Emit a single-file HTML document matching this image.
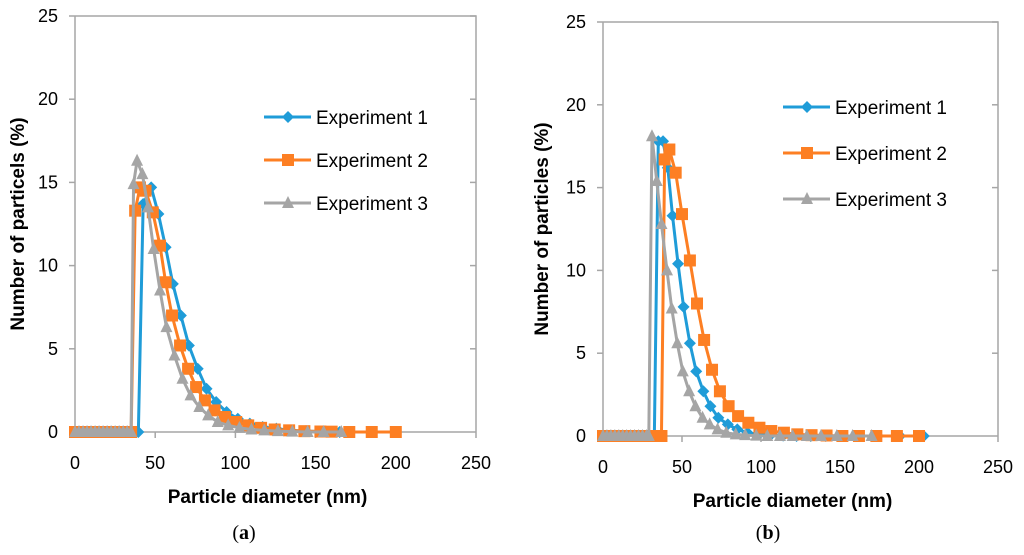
<!DOCTYPE html>
<html><head><meta charset="utf-8"><style>
html,body{margin:0;padding:0;background:#fff;width:1024px;height:555px;overflow:hidden}
svg{display:block;font-family:"Liberation Sans",sans-serif}
</style></head><body>
<svg id="fig" width="1024" height="555"></svg>
<script>
// Panel (a) data
const aX1=[0,2.5,5,7.5,10,12.5,15,17.5,20,22.5,25,27.5,30,32.5,35,39.5,42.5,47.5,52,56.5,61,66,71,76.5,82,88,94.5,101.5,109,117,125.5,134.5,144,154,165];
const aY1=[0,0,0,0,0,0,0,0,0,0,0,0,0,0,0,0,13.7,14.7,13.1,11.1,8.9,7.0,5.2,3.8,2.6,1.8,1.2,0.8,0.5,0.3,0.2,0.1,0.05,0.02,0];
const aX2=[0,2.5,5,7.5,10,12.5,15,17.5,20,22.5,25,27.5,30,32.5,35,37.5,40.5,44,48.5,53,56.5,60.5,65.5,70.5,75.5,81,87,93.5,100.5,108,116,124.5,133.5,143,153,160,171,185,200];
const aY2=[0,0,0,0,0,0,0,0,0,0,0,0,0,0,0,13.3,14.7,14.5,13.2,11.2,9.0,7.0,5.2,3.8,2.7,1.9,1.3,0.9,0.6,0.4,0.25,0.15,0.1,0.05,0.03,0.02,0,0,0];
const aX3=[0,2.5,5,7.5,10,12.5,15,17.5,20,22.5,25,27.5,30,32.5,35,36.5,38.7,42,45.5,49,53,57,62,67,72,77.5,83,89,95.5,102.5,110,118,126.5,135.5,145,155,166];
const aY3=[0,0,0,0,0,0,0,0,0,0,0,0,0,0,0,14.9,16.3,15.5,13.5,11.0,8.5,6.3,4.6,3.2,2.2,1.5,1.0,0.6,0.4,0.25,0.15,0.1,0.05,0.02,0,0,0];
// Panel (b) data
const bX1=[0,2.5,5,7.5,10,12.5,15,17.5,20,22.5,25,27.5,30,32.5,35,38,41,44,47.5,51,55,59,63.5,68,73,79,85,91.5,98.5,106,114,122.5,131.5,141,151,162,174,188,203];
const bY1=[0,0,0,0,0,0,0,0,0,0,0,0,0,0,17.8,17.8,16.2,13.3,10.4,7.8,5.6,3.9,2.7,1.8,1.1,0.7,0.4,0.2,0.1,0.05,0.02,0,0,0,0,0,0,0,0];
const bX2=[0,2.5,5,7.5,10,12.5,15,17.5,20,22.5,25,27.5,30,32.5,35,37,39,42,46,50,55,59.5,64,69,74,79.5,85.5,92,99,106.5,114.5,123,132,141.5,151.5,162,173,186,200];
const bY2=[0,0,0,0,0,0,0,0,0,0,0,0,0,0,0,0,16.7,17.3,15.9,13.4,10.6,8.0,5.8,4.0,2.7,1.8,1.2,0.8,0.5,0.3,0.2,0.1,0.05,0.03,0,0,0,0,0];
const bX3=[0,2.5,5,7.5,10,12.5,15,17.5,20,22.5,25,27.5,29,31,34,37,40.5,43.5,47,50.5,54.5,58.5,63,67.5,72.5,78,84,90,97,104,112,120,129,138,148,158,170];
const bY3=[0,0,0,0,0,0,0,0,0,0,0,0,0,18.1,15.4,12.8,10.0,7.7,5.6,3.9,2.7,1.8,1.1,0.7,0.4,0.2,0.1,0.05,0.02,0,0,0,0,0,0,0,0];
const xTicks=[0,50,100,150,200,250];
const yTicks=[0,5,10,15,20,25];
const seriesNames=["Experiment 1","Experiment 2","Experiment 3"];
const colors=["#1f9cd8","#fd7f23","#a5a5a5"];

const NS="http://www.w3.org/2000/svg";
const svg=document.getElementById('fig');
function mk(tag,attrs,parent,text){const e=document.createElementNS(NS,tag);for(const k in attrs)e.setAttribute(k,attrs[k]);if(text!==undefined)e.textContent=text;(parent||svg).appendChild(e);return e;}

function marker(g,kind,cx,cy,color,s){
  let m;
  if(kind===0){m=mk('polygon',{points:`${cx},${cy-s} ${cx+s},${cy} ${cx},${cy+s} ${cx-s},${cy}`,fill:color},g);}
  else if(kind===1){m=mk('rect',{x:cx-s,y:cy-s,width:2*s,height:2*s,fill:color},g);}
  else {m=mk('polygon',{points:`${cx},${cy-s-1} ${cx+s},${cy+s-1} ${cx-s},${cy+s-1}`,fill:color},g);}
  return m;
}

function panel(p){
  const g=mk('g',{});
  
  
  const sx=v=>p.x0+(v/250)*(p.x1-p.x0);
  const sy=v=>p.y0-(v/25)*(p.y0-p.y1);
  const fr=mk('path',{d:`M${p.x0},${p.y1} H${p.x1} V${p.y0} M${p.x0},${p.y1} V${p.y0} H${p.x1}`,stroke:'#a6a6a6','stroke-width':1.5,fill:'none'},g);
  
  
  yTicks.forEach(t=>{
    const y=sy(t);
    mk('line',{x1:p.x0-6,x2:p.x0,y1:y,y2:y,stroke:'#a6a6a6','stroke-width':1.5},g);
    if(t>0)mk('line',{x1:p.x1-6,x2:p.x1,y1:y,y2:y,stroke:'#a6a6a6','stroke-width':1.5},g);
    const tl=mk('text',{x:p.x0-17,y:y+6,'text-anchor':'end','font-size':18,fill:'#000'},g,String(t));
    
    
  });
  xTicks.forEach(t=>{
    const x=sx(t);
    mk('line',{x1:x,x2:x,y1:p.y0,y2:p.y0+6,stroke:'#a6a6a6','stroke-width':1.5},g);
    const tl=mk('text',{x:x,y:p.y0+37,'text-anchor':'middle','font-size':18,fill:'#000'},g,String(t));
    
    
  });
  p.series.forEach((s,i)=>{
    const sg=mk('g',{},g);
    
    
    const pts=s[0].map((x,j)=>sx(x)+','+sy(s[1][j])).join(' ');
    mk('polyline',{points:pts,fill:'none',stroke:colors[i],'stroke-width':3,'stroke-linejoin':'round'},sg);
    s[0].forEach((x,j)=>{
      const m=marker(sg,i,sx(x),sy(s[1][j]),colors[i],6);
      
      
    });
  });
  seriesNames.forEach((n,i)=>{
    const lg=mk('g',{},g);
    
    
    const y=p.legY+i*p.legGap;
    mk('line',{x1:p.legX,x2:p.legX+47,y1:y,y2:y,stroke:colors[i],'stroke-width':3},lg);
    marker(lg,i,p.legX+24,y,colors[i],6);
    mk('text',{x:p.legX+52,y:y+7,'font-size':19,fill:'#000'},lg,n);
  });
  const xt=mk('text',{x:(p.x0+p.x1)/2-8,y:p.y0+71,'text-anchor':'middle','font-size':19,'font-weight':'bold',fill:'#000'},g,'Particle diameter (nm)');
  
  
  const yc=(p.y0+p.y1)/2;
  const yt=mk('text',{x:p.ytx,y:yc,'text-anchor':'middle','font-size':19,'font-weight':'bold',fill:'#000',transform:`rotate(-90 ${p.ytx} ${yc})`},g,p.ytitle);
  
  
  const cap=mk('text',{x:p.capX,y:539,'text-anchor':'middle','font-size':20,'font-family':'Liberation Serif, serif',fill:'#000'},g);
  
  
  mk('tspan',{},cap,'(');mk('tspan',{'font-weight':'bold'},cap,p.id);mk('tspan',{},cap,')');
}
panel({id:'a',x0:75,x1:476,y0:432,y1:16,series:[[aX1,aY1],[aX2,aY2],[aX3,aY3]],legX:264,legY:117,legGap:43,ytx:24,ytitle:'Number of particels (%)',capX:244});
panel({id:'b',x0:603,x1:998,y0:436,y1:22,series:[[bX1,bY1],[bX2,bY2],[bX3,bY3]],legX:783,legY:107,legGap:46,ytx:548,ytitle:'Number of particles (%)',capX:768});
</script>
</body></html>
